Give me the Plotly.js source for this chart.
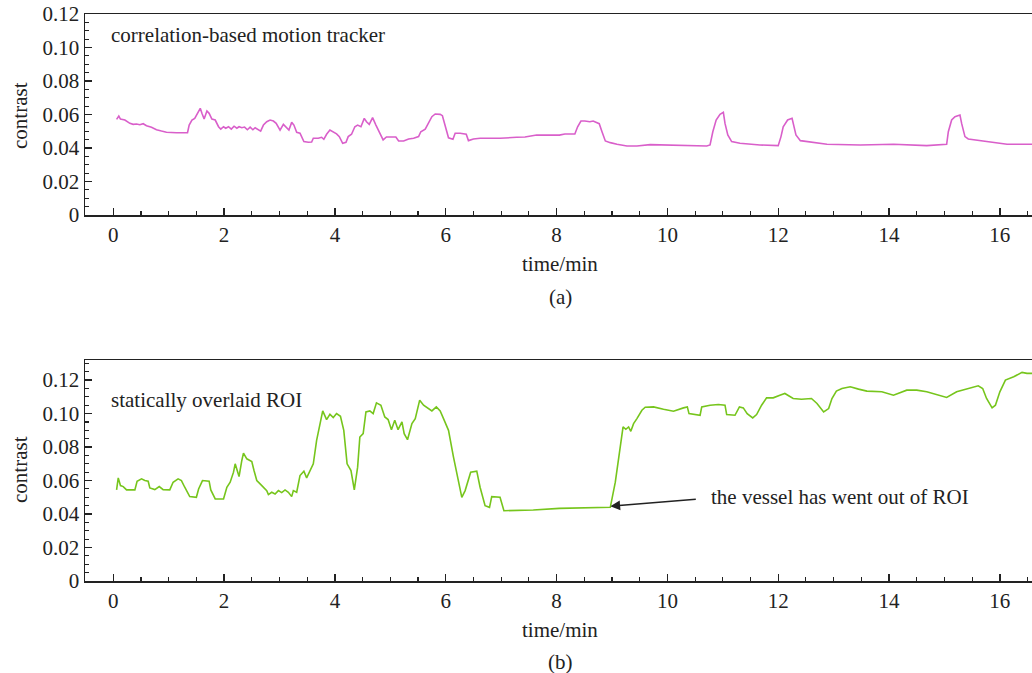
<!DOCTYPE html>
<html>
<head>
<meta charset="utf-8">
<script src="https://cdn.plot.ly/plotly-3.0.1.min.js"></script>
<style>html,body{margin:0;padding:0;background:#fff;}#chart{width:1032px;height:673px;}</style>
</head>
<body>
<div id="chart"></div>
<script>
// (a) correlation-based motion tracker
const timeA = [0.06,0.10,0.13,0.21,0.30,0.36,0.42,0.48,0.54,0.60,0.69,0.78,0.87,0.96,1.14,1.34,1.37,1.42,1.47,1.52,1.57,1.60,1.64,1.69,1.73,1.78,1.84,1.90,1.94,1.99,2.03,2.08,2.13,2.18,2.23,2.27,2.32,2.37,2.42,2.47,2.52,2.56,2.61,2.66,2.71,2.77,2.83,2.89,2.94,3.01,3.07,3.12,3.17,3.22,3.26,3.31,3.37,3.44,3.52,3.58,3.61,3.70,3.76,3.80,3.85,3.91,3.97,4.03,4.08,4.14,4.20,4.24,4.30,4.36,4.41,4.47,4.53,4.57,4.62,4.68,4.74,4.81,4.87,4.93,5.03,5.10,5.15,5.24,5.33,5.42,5.51,5.55,5.63,5.69,5.75,5.81,5.90,5.94,5.99,6.05,6.13,6.17,6.26,6.37,6.41,6.50,6.62,6.98,7.28,7.43,7.64,7.82,8.05,8.15,8.33,8.38,8.44,8.51,8.60,8.66,8.77,8.82,8.88,8.97,9.09,9.27,9.45,9.69,9.99,10.47,10.71,10.77,10.82,10.88,10.95,11.01,11.04,11.09,11.16,11.31,11.67,12.00,12.05,12.09,12.17,12.25,12.28,12.32,12.40,12.52,12.88,13.48,14.08,14.68,14.98,15.04,15.07,15.13,15.19,15.28,15.31,15.37,15.43,15.64,15.82,16.13,16.60];
const contrastA = [0.0571,0.0591,0.0573,0.0567,0.0547,0.0541,0.0543,0.0539,0.0545,0.0533,0.0524,0.0509,0.0501,0.0494,0.0491,0.0491,0.0537,0.0567,0.0577,0.0607,0.0637,0.0607,0.0573,0.0621,0.0607,0.0573,0.0567,0.0527,0.0513,0.0527,0.0518,0.0527,0.0513,0.0530,0.0518,0.0527,0.0521,0.0525,0.0509,0.0525,0.0509,0.0521,0.0512,0.0501,0.0537,0.0557,0.0567,0.0561,0.0547,0.0507,0.0541,0.0524,0.0507,0.0553,0.0537,0.0494,0.0488,0.0438,0.0434,0.0436,0.0458,0.0458,0.0464,0.0452,0.0482,0.0507,0.0497,0.0484,0.0468,0.0428,0.0434,0.0468,0.0482,0.0527,0.0537,0.0527,0.0577,0.0557,0.0541,0.0581,0.0537,0.0488,0.0448,0.0466,0.0468,0.0466,0.0442,0.0442,0.0454,0.0458,0.0468,0.0497,0.0512,0.0547,0.0587,0.0603,0.0601,0.0593,0.0527,0.0461,0.0452,0.0488,0.0488,0.0482,0.0444,0.0454,0.0458,0.0458,0.0464,0.0466,0.0478,0.0476,0.0477,0.0484,0.0484,0.0527,0.0561,0.0561,0.0557,0.0561,0.0545,0.0497,0.0442,0.0432,0.0422,0.0412,0.0412,0.0420,0.0418,0.0418,0.0412,0.0418,0.0497,0.0567,0.0601,0.0613,0.0547,0.0478,0.0438,0.0428,0.0418,0.0414,0.0468,0.0527,0.0567,0.0577,0.0537,0.0478,0.0444,0.0438,0.0422,0.0418,0.0422,0.0414,0.0418,0.0422,0.0497,0.0567,0.0587,0.0597,0.0547,0.0468,0.0454,0.0444,0.0438,0.0422,0.0422];

// (b) statically overlaid ROI
const timeB = [0.06,0.09,0.13,0.18,0.24,0.33,0.39,0.43,0.51,0.57,0.63,0.66,0.75,0.83,0.90,1.02,1.08,1.17,1.23,1.29,1.38,1.50,1.54,1.61,1.73,1.76,1.84,1.99,2.05,2.11,2.17,2.20,2.24,2.27,2.32,2.35,2.41,2.50,2.54,2.59,2.65,2.71,2.77,2.80,2.86,2.92,2.98,3.04,3.10,3.16,3.22,3.25,3.31,3.37,3.44,3.49,3.55,3.61,3.67,3.73,3.78,3.85,3.91,3.97,4.03,4.10,4.16,4.22,4.29,4.35,4.41,4.45,4.51,4.56,4.63,4.69,4.75,4.83,4.90,4.96,5.02,5.08,5.14,5.21,5.25,5.31,5.39,5.45,5.53,5.60,5.69,5.75,5.83,5.90,5.96,6.05,6.14,6.20,6.29,6.35,6.41,6.45,6.56,6.62,6.71,6.79,6.83,6.98,7.05,7.28,7.58,8.05,8.67,8.97,9.06,9.14,9.20,9.25,9.30,9.34,9.39,9.45,9.54,9.60,9.75,9.93,10.11,10.29,10.36,10.39,10.47,10.59,10.62,10.77,10.92,11.04,11.07,11.22,11.30,11.37,11.44,11.54,11.61,11.70,11.79,11.91,12.03,12.12,12.27,12.42,12.60,12.70,12.82,12.91,12.97,13.05,13.15,13.30,13.45,13.60,13.87,14.08,14.32,14.50,14.68,14.83,15.04,15.22,15.43,15.61,15.69,15.76,15.86,15.92,16.00,16.10,16.25,16.40,16.49,16.60];
const contrastB = [0.0544,0.0616,0.0570,0.0564,0.0544,0.0546,0.0544,0.0596,0.0610,0.0600,0.0596,0.0556,0.0546,0.0564,0.0546,0.0544,0.0590,0.0610,0.0600,0.0560,0.0504,0.0500,0.0550,0.0600,0.0596,0.0544,0.0490,0.0490,0.0560,0.0590,0.0650,0.0700,0.0660,0.0624,0.0720,0.0764,0.0730,0.0714,0.0660,0.0600,0.0580,0.0560,0.0540,0.0516,0.0530,0.0520,0.0540,0.0528,0.0544,0.0530,0.0504,0.0540,0.0530,0.0630,0.0656,0.0616,0.0660,0.0700,0.0840,0.0940,0.1016,0.0964,0.0996,0.0976,0.1000,0.0984,0.0900,0.0700,0.0660,0.0544,0.0680,0.0860,0.0880,0.1010,0.1016,0.1000,0.1064,0.1050,0.0980,0.0964,0.0904,0.0960,0.0904,0.0950,0.0880,0.0844,0.0940,0.0970,0.1080,0.1050,0.1030,0.1016,0.1040,0.1016,0.0970,0.0900,0.0740,0.0640,0.0500,0.0540,0.0610,0.0650,0.0656,0.0560,0.0450,0.0440,0.0504,0.0500,0.0420,0.0420,0.0424,0.0434,0.0440,0.0440,0.0590,0.0780,0.0920,0.0906,0.0920,0.0894,0.0940,0.0970,0.1020,0.1038,0.1040,0.1026,0.1014,0.1034,0.1040,0.1000,0.0996,0.0990,0.1040,0.1050,0.1054,0.1050,0.0994,0.0990,0.1040,0.1034,0.1000,0.0974,0.0994,0.1050,0.1094,0.1094,0.1110,0.1120,0.1090,0.1086,0.1090,0.1060,0.1010,0.1030,0.1090,0.1134,0.1150,0.1160,0.1146,0.1134,0.1130,0.1110,0.1140,0.1140,0.1130,0.1114,0.1096,0.1130,0.1150,0.1166,0.1150,0.1090,0.1034,0.1050,0.1130,0.1200,0.1220,0.1246,0.1240,0.1240];

const xTickVals = [0,2,4,6,8,10,12,14,16];
const yTickVals = [0,0.02,0.04,0.06,0.08,0.10,0.12];
const yTickText = ['0','0.02','0.04','0.06','0.08','0.10','0.12'];

const H = 673;
const py = p => 1 - p / H;
const FONT = 'Liberation Serif, Times New Roman, serif';

const xBase = {
  range: [-0.51, 16.58], showline: true, linecolor: '#222', linewidth: 1.5, mirror: true,
  ticks: 'inside', ticklen: 7, tickwidth: 1.3, tickcolor: '#222',
  tickvals: xTickVals, showgrid: false, zeroline: false,
  tickfont: {family: FONT, size: 21, color: '#222'},
  minor: {dtick: 0.5, tick0: 0, ticks: 'inside', ticklen: 4, tickwidth: 1.1, tickcolor: '#222', showgrid: false}
};
const yBase = {
  showline: true, linecolor: '#222', linewidth: 1.5, mirror: false,
  ticks: 'inside', ticklen: 7, tickwidth: 1.3, tickcolor: '#222',
  tickvals: yTickVals, ticktext: yTickText, showgrid: false, zeroline: false,
  tickfont: {family: FONT, size: 21, color: '#222'},
  minor: {dtick: 0.005, tick0: 0, ticks: 'inside', ticklen: 4, tickwidth: 1.1, tickcolor: '#222', showgrid: false}
};

const data = [
  {x: timeA, y: contrastA, xaxis: 'x', yaxis: 'y', mode: 'lines', line: {color: '#d95fca', width: 1.6}, hoverinfo: 'skip'},
  {x: timeB, y: contrastB, xaxis: 'x2', yaxis: 'y2', mode: 'lines', line: {color: '#76c51c', width: 1.6}, hoverinfo: 'skip'}
];

const ann = (text, x, y, opts) => Object.assign({text, x, y, xref: 'paper', yref: 'paper', showarrow: false,
  font: {family: FONT, size: 21, color: '#222'}}, opts || {});

const layout = {
  width: 1032, height: 673, showlegend: false,
  paper_bgcolor: '#fff', plot_bgcolor: '#fff',
  margin: {l: 85, r: 0, t: 0, b: 0},
  xaxis: Object.assign({}, xBase, {domain: [0, 1], anchor: 'y'}),
  yaxis: Object.assign({}, yBase, {domain: [py(215), py(14)], range: [0, 0.12], anchor: 'x'}),
  xaxis2: Object.assign({}, xBase, {domain: [0, 1], anchor: 'y2'}),
  yaxis2: Object.assign({}, yBase, {domain: [py(581), py(360)], range: [0, 0.132], anchor: 'x2'}),
  annotations: [
    ann('correlation-based motion tracker', (109 - 85) / 947, py(35), {xanchor: 'left', yanchor: 'middle'}),
    ann('statically overlaid ROI', (109 - 85) / 947, py(400), {xanchor: 'left', yanchor: 'middle'}),
    ann('time/min', (560 - 85) / 947, py(264), {xanchor: 'center', yanchor: 'middle'}),
    ann('(a)', (560 - 85) / 947, py(297), {xanchor: 'center', yanchor: 'middle'}),
    ann('time/min', (560 - 85) / 947, py(630), {xanchor: 'center', yanchor: 'middle'}),
    ann('(b)', (560 - 85) / 947, py(662), {xanchor: 'center', yanchor: 'middle'}),
    ann('contrast', (20 - 85) / 947, py(116), {xanchor: 'center', yanchor: 'middle', textangle: -90}),
    ann('contrast', (20 - 85) / 947, py(470), {xanchor: 'center', yanchor: 'middle', textangle: -90}),
    ann('the vessel has went out of ROI', (709 - 85) / 947, py(497), {xanchor: 'left', yanchor: 'middle'}),
    {x: 8.97, y: 0.0447, xref: 'x2', yref: 'y2', ax: 87, ay: -7, axref: 'pixel', ayref: 'pixel',
     showarrow: true, arrowhead: 2, arrowsize: 1.4, arrowwidth: 1.4, arrowcolor: '#222', text: '', standoff: 0}
  ]
};

Plotly.newPlot('chart', data, layout, {displayModeBar: false, staticPlot: true});
</script>
</body>
</html>
